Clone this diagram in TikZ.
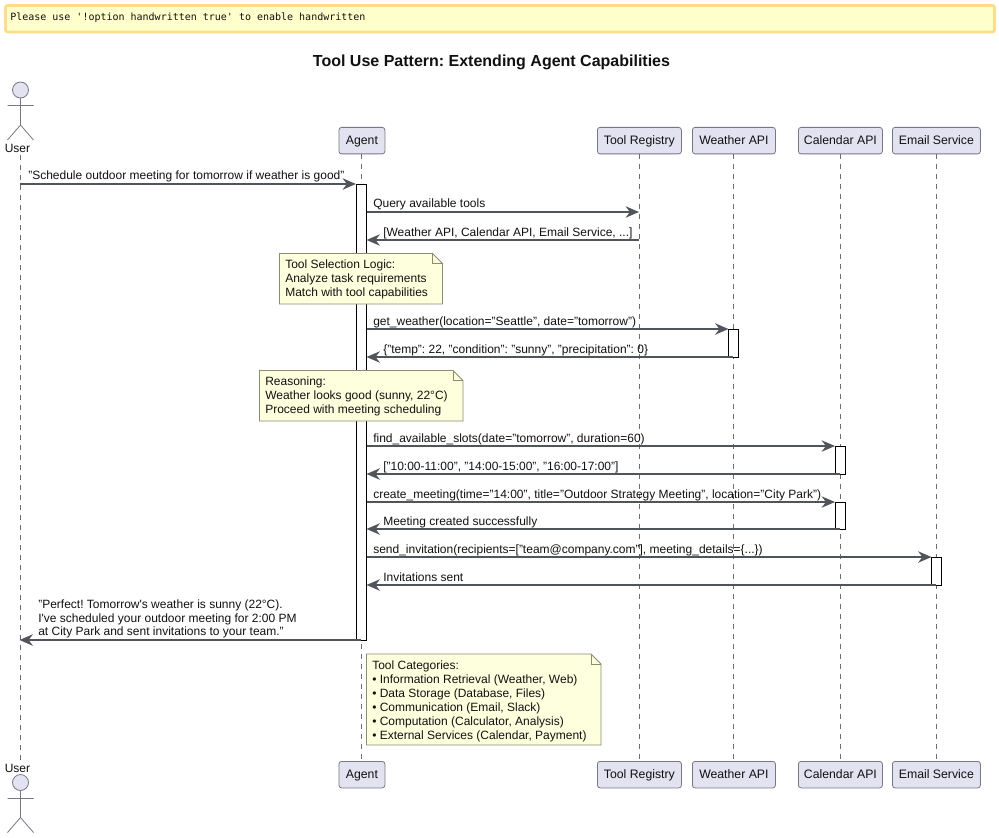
\documentclass[tikz,border=0pt]{standalone}
\usepackage{fontspec}
\setmainfont{Liberation Sans}
\newfontfamily\bannerfont{DejaVu Sans Mono}
\usetikzlibrary{arrows.meta}
\frenchspacing
\definecolor{partfill}{HTML}{E2E2F0}
\definecolor{partline}{HTML}{777788}
\definecolor{msgline}{HTML}{50555C}
\definecolor{notefill}{HTML}{FEFFDD}
\definecolor{noteline}{HTML}{8C8C70}
\definecolor{bannerfill}{HTML}{FFFFCC}
\definecolor{bannerline}{HTML}{FFDD88}
\definecolor{txt}{HTML}{111111}
\tikzset{
  x=0.75pt,y=-0.75pt,
  every node/.style={text=txt,font=\fontsize{9.0}{10.5}\selectfont,inner sep=0pt},
  part/.style={draw=partline,fill=partfill,line width=0.6pt,rounded corners=2pt,anchor=north west},
  partlabel/.style={anchor=base,font=\fontsize{9.2}{11}\selectfont},
  life/.style={draw=partline!90!black,line width=0.55pt,dash pattern=on 3.75pt off 3.75pt},
  bar/.style={draw=black,fill=white,line width=0.7pt},
  msg/.style={draw=msgline,line width=1.4pt,-{Stealth[length=10pt,width=8.5pt,inset=3.2pt]}},
  lbl/.style={anchor=base west},
  notebox/.style={draw=noteline,fill=notefill,line width=0.6pt},
  notetext/.style={anchor=north west,align=left},
  stick/.style={draw=partline,line width=0.6pt},
  head/.style={draw=partline,fill=partfill,line width=0.6pt},
}
\newcommand{\partbox}[6]{\node[part,minimum width=#4*0.75pt,minimum height=26.5*0.75pt] (#1) at (#2,#3) {};
  \node[partlabel] (#5) at ([yshift=-2.8pt]#1.center) {#6};}
\newcommand{\notepoly}[4]{\draw[notebox] (#1,#2) -- (#3-10,#2) -- (#3,#2+10) -- (#3,#4) -- (#1,#4) -- cycle;
  \draw[notebox,fill=none] (#3-10,#2) -- (#3-10,#2+10) -- (#3,#2+10);}
\begin{document}
\begin{tikzpicture}
\useasboundingbox (0,0) rectangle (999,838);
\fill[white] (0,0) rectangle (999,838);
% banner
\draw[draw=bannerline,fill=bannerfill,line width=2pt,rounded corners=1.5pt] (5.5,5.5) rectangle (994.5,32);
\node[anchor=base west,font=\bannerfont\fontsize{7.5}{10}\selectfont] (banner) at (10,20.5) {Please use '!option handwritten true' to enable handwritten};
% title
\node[anchor=base,font=\bfseries\fontsize{12.0}{14}\selectfont] (title) at (491.5,67) {Tool Use Pattern: Extending Agent Capabilities};
% participants top
\partbox{agT}{338.5}{127}{46}{agTl}{Agent}
\partbox{trT}{597}{127}{84}{trTl}{Tool Registry}
\partbox{waT}{692}{127}{83}{waTl}{Weather API}
\partbox{caT}{798}{127}{84}{caTl}{Calendar API}
\partbox{emT}{892}{127}{88}{emTl}{Email Service}
% participants bottom
\partbox{agB}{338.5}{761}{46}{agBl}{Agent}
\partbox{trB}{597}{761}{84}{trBl}{Tool Registry}
\partbox{waB}{692}{761}{83}{waBl}{Weather API}
\partbox{caB}{798}{761}{84}{caBl}{Calendar API}
\partbox{emB}{892}{761}{88}{emBl}{Email Service}
% user actor
\node[anchor=base] (usT) at (17.5,152) {User};
\node[anchor=base] (usB) at (17.5,772) {User};
\draw[head] (20.5,90) circle[radius=8];
\draw[stick] (20.5,98) -- (20.5,125) (7.5,105.5) -- (33.5,105.5) (7.5,140) -- (20.5,125) -- (33.5,140);
\draw[head] (20.5,782.5) circle[radius=8];
\draw[stick] (20.5,790.5) -- (20.5,817.5) (7.5,798.5) -- (33.5,798.5) (7.5,832.5) -- (20.5,817.5) -- (33.5,832.5);
% lifelines
\coordinate (usTop) at (20.5,155);
\coordinate (usBot) at (20.5,760);
\draw[life] (usTop) -- (usBot);
\draw[life] (agT.south -| 361,0) -- (agB.north -| 361,0);
\draw[life] (trT.south -| 639,0) -- (trB.north -| 639,0);
\draw[life] (waT.south -| 733,0) -- (waB.north -| 733,0);
\draw[life] (caT.south -| 840,0) -- (caB.north -| 840,0);
\draw[life] (emT.south -| 936,0) -- (emB.north -| 936,0);
% activation bars
\draw[bar] (356.5,184) rectangle (366.5,640);
\draw[bar] (728.5,329) rectangle (738.5,357);
\draw[bar] (835,446) rectangle (845,474);
\draw[bar] (835,502) rectangle (845,529);
\draw[bar] (931.5,557) rectangle (941.5,585);
% message rows
\foreach \n/\y in {a/184,b/212,c/240,d/329,e/357,f/446,g/474,h/502,i/529,j/557,k/585,l/640}
  \coordinate (m\n) at (0,\y);
\coordinate (agL) at (356,0); \coordinate (agR) at (366.5,0); \coordinate (agC) at (361,0);
\coordinate (usC) at (19.5,0); \coordinate (trC) at (639,0);
\coordinate (waL) at (728.5,0); \coordinate (waC) at (733,0);
\coordinate (caL) at (835,0); \coordinate (caC) at (840,0);
\coordinate (emL) at (931.5,0); \coordinate (emC) at (936,0);
% messages
\draw[msg] (usC |- ma) -- (agL |- ma);
\draw[msg] (agR |- mb) -- (trC |- mb);
\draw[msg] (trC |- mc) -- (agR |- mc);
\draw[msg] (agR |- md) -- (waL |- md);
\draw[msg] (waC |- me) -- (agR |- me);
\draw[msg] (agR |- mf) -- (caL |- mf);
\draw[msg] (caC |- mg) -- (agR |- mg);
\draw[msg] (agR |- mh) -- (caL |- mh);
\draw[msg] (caC |- mi) -- (agR |- mi);
\draw[msg] (agR |- mj) -- (emL |- mj);
\draw[msg] (emC |- mk) -- (agR |- mk);
\draw[msg] (agC |- ml) -- (usC |- ml);
% message labels
\node[lbl] (la) at (28,180) {"Schedule outdoor meeting for tomorrow if weather is good"};
\node[lbl] (lb) at (373,208) {Query available tools};
\node[lbl] (lc) at (383,236) {[Weather API, Calendar API, Email Service, ...]};
\node[lbl] (ld) at (373,325) {get\_weather(location="Seattle", date="tomorrow")};
\node[lbl] (le) at (383,353) {\{"temp": 22, "condition": "sunny", "precipitation": 0\}};
\node[lbl] (lf) at (373,442) {find\_available\_slots(date="tomorrow", duration=60)};
\node[lbl] (lg) at (383,470) {["10:00-11:00", "14:00-15:00", "16:00-17:00"]};
\node[lbl] (lh) at (373,498) {create\_meeting(time="14:00", title="Outdoor Strategy Meeting", location="City Park")};
\node[lbl] (li) at (383,525) {Meeting created successfully};
\node[lbl] (lj) at (373,553) {send\_invitation(recipients=["team@company.com"], meeting\_details=\{...\})};
\node[lbl] (lk) at (383,581) {Invitations sent};
\node[notetext,font=\fontsize{9.0}{10}\selectfont] (ll) at (38,600) {"Perfect! Tomorrow\textquotesingle s weather is sunny (22°C).\\I\textquotesingle ve scheduled your outdoor meeting for 2:00 PM\\at City Park and sent invitations to your team."};
% notes
\notepoly{279.5}{253.5}{442.5}{304}
\node[notetext] (n1) at (285,260) {Tool Selection Logic:\\Analyze task requirements\\Match with tool capabilities};
\notepoly{259.5}{370.5}{463}{421}
\node[notetext] (n2) at (265,377) {Reasoning:\\Weather looks good (sunny, 22°C)\\Proceed with meeting scheduling};
\notepoly{366.5}{654}{601}{745}
\node[notetext] (n3) at (372,661) {Tool Categories:\\• Information Retrieval (Weather, Web)\\• Data Storage (Database, Files)\\• Communication (Email, Slack)\\• Computation (Calculator, Analysis)\\• External Services (Calendar, Payment)};
\end{tikzpicture}
\end{document}
